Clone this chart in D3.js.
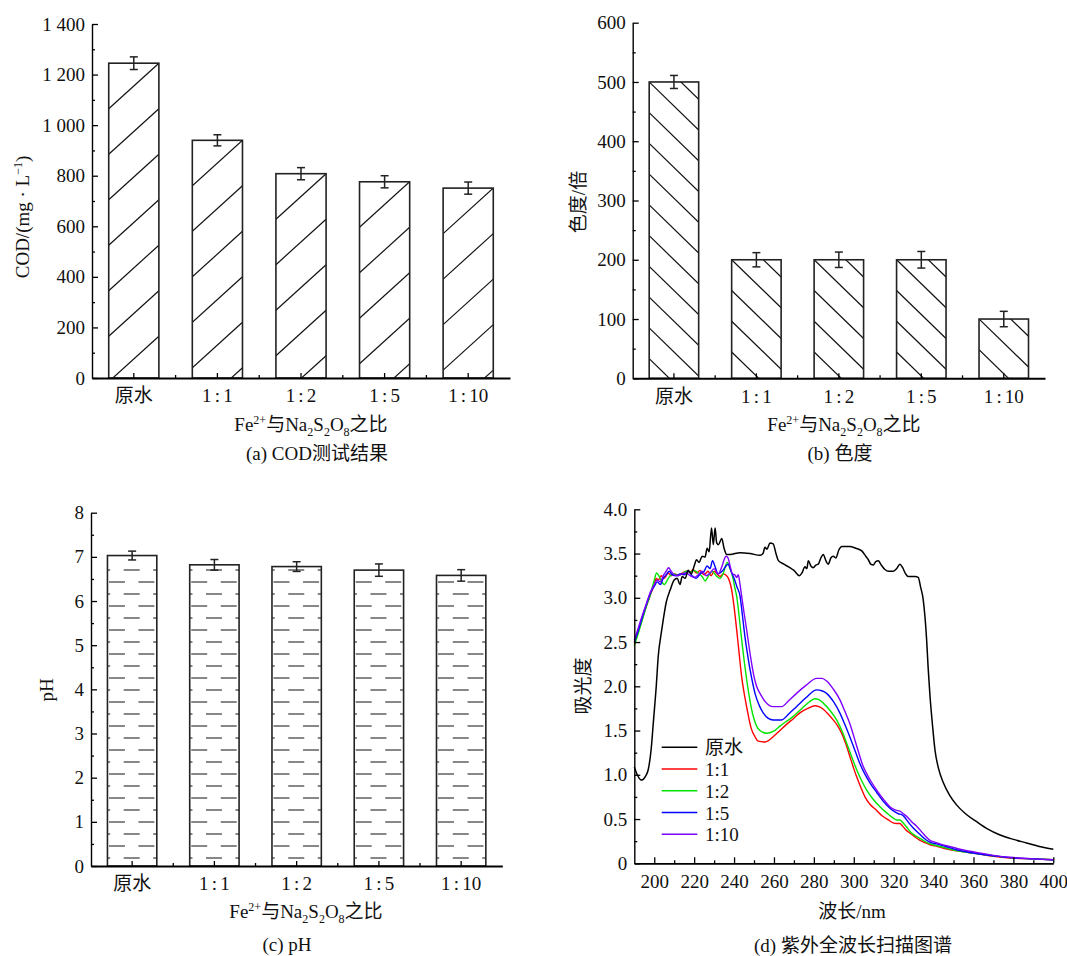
<!DOCTYPE html>
<html>
<head>
<meta charset="utf-8">
<script src="https://cdn.jsdelivr.net/npm/d3@7"></script>
<style>
  body { margin: 0; background: #fff; }
  text { font-family: "Liberation Serif", "Times New Roman", "Noto Sans CJK SC", serif; fill: #111; }
</style>
</head>
<body>
<svg id="fig" width="1067" height="956"></svg>
<script>
// bar chart data (a), (b), (c)
const categories = ["原水", "1\u2006:\u20061", "1\u2006:\u20062", "1\u2006:\u20065", "1\u2006:\u200610"];
const codValues = [1245, 940, 808, 776, 751];
const codErrors = [25, 22, 24, 24, 24];
const colorValues = [500, 200, 200, 200, 100];
const colorErrors = [11, 12, 13, 14, 13];
const phValues = [7.03, 6.82, 6.78, 6.70, 6.58];
const phErrors = [0.10, 0.12, 0.11, 0.14, 0.13];

const codTicks = d3.range(0, 1401, 200);
const colorTicks = d3.range(0, 601, 100);
const phTicks = d3.range(0, 9, 1);

// UV scan (d): [wavelength nm, absorbance]
const seriesNames = ["原水", "1:1", "1:2", "1:5", "1:10"];
const seriesColors = ["#000000", "#ff0000", "#00e400", "#0000ff", "#8000ff"];
const rawWater = [[190,1.09],[191.5,1.0],[193.5,0.94],[195.5,0.98],[197,1.06],[198.5,1.3],[199.5,1.58],[201,2.0],[202,2.34],[203.5,2.6],[204.5,2.75],[206,2.95],[208,3.09],[210,3.2],[211.5,3.22],[212.9,3.15],[214,3.24],[215.5,3.22],[217,3.31],[218.5,3.27],[220,3.36],[221.2,3.43],[222.5,3.40],[224,3.47],[225.5,3.46],[226.5,3.56],[227.5,3.52],[228.7,3.79],[229.6,3.6],[230.5,3.79],[231.3,3.62],[232.2,3.6],[233.8,3.67],[235,3.56],[236.3,3.49],[238,3.49],[243,3.51],[248,3.5],[253,3.48],[254.5,3.5],[255.5,3.57],[256.5,3.55],[258,3.62],[259.6,3.61],[261,3.5],[262.2,3.42],[265,3.38],[268,3.34],[270,3.31],[272.7,3.25],[274,3.28],[275.5,3.35],[276.5,3.33],[277.2,3.42],[278.5,3.36],[279.7,3.34],[281,3.37],[282.2,3.38],[283.5,3.45],[284.7,3.49],[286,3.42],[287.2,3.38],[288.5,3.45],[289.7,3.47],[291,3.45],[292.5,3.54],[294,3.58],[298,3.58],[301,3.56],[304,3.53],[306,3.47],[307.3,3.43],[308.5,3.38],[309.8,3.37],[311,3.41],[312.3,3.42],[313.5,3.38],[315.6,3.32],[317.5,3.3],[319.8,3.3],[321.5,3.33],[323.1,3.38],[324.5,3.34],[326,3.27],[327.3,3.24],[330.7,3.24],[332.3,3.23],[333.5,3.12],[334.8,2.98],[335.7,2.78],[336.5,2.53],[337.3,2.2],[338.2,1.89],[339.5,1.55],[340.7,1.28],[342.5,1.07],[344.9,0.91],[348,0.77],[351.5,0.66],[356,0.56],[361.6,0.47],[367,0.39],[373.3,0.32],[380,0.27],[386.6,0.23],[393,0.19],[400,0.16]];
const ratio1 = [[190,2.49],[192,2.62],[194,2.76],[196,2.9],[198,3.03],[200,3.15],[201,3.22],[202,3.2],[203.5,3.25],[205,3.22],[207,3.28],[208.5,3.25],[210,3.27],[212,3.26],[214,3.28],[216,3.3],[218,3.29],[219.5,3.32],[221,3.28],[223,3.31],[225,3.26],[227,3.3],[228.5,3.25],[230,3.3],[231.5,3.27],[233,3.24],[234.5,3.27],[236.3,3.25],[237.5,3.2],[238.8,3.09],[240,2.9],[241.3,2.64],[242.5,2.38],[243.8,2.11],[245,1.93],[246.3,1.77],[247.5,1.63],[248.8,1.51],[250.5,1.43],[252.1,1.38],[255.5,1.37],[257.5,1.39],[259.6,1.43],[263,1.5],[266.3,1.57],[270,1.64],[273,1.70],[277,1.75],[280.5,1.78],[282.5,1.77],[284.7,1.74],[287,1.69],[289.7,1.62],[292,1.55],[293.9,1.47],[296,1.35],[298,1.21],[300,1.07],[301.4,0.98],[303.5,0.86],[305.6,0.75],[308,0.67],[311.4,0.60],[314,0.54],[317.3,0.49],[319.5,0.46],[321.5,0.45],[323,0.45],[324.5,0.42],[326,0.38],[328.2,0.34],[330.5,0.30],[333.2,0.26],[336,0.23],[338.2,0.21],[342,0.19],[345,0.17],[352,0.14],[361.6,0.11],[370,0.08],[378.3,0.06],[390,0.05],[400,0.04]];
const ratio2 = [[190,2.46],[192,2.6],[194,2.75],[196,2.9],[198,3.03],[200,3.2],[201.2,3.28],[202.5,3.24],[204,3.17],[205.2,3.15],[206.5,3.2],[208,3.25],[210,3.27],[212,3.25],[214,3.27],[216,3.3],[218,3.29],[220,3.31],[222,3.28],[224,3.24],[225.5,3.19],[227,3.24],[229,3.3],[231,3.25],[233,3.22],[234.5,3.27],[236.5,3.40],[238,3.33],[239.5,3.22],[240.5,3.1],[241.3,3.02],[242.5,2.8],[243.8,2.53],[245,2.3],[246.3,2.08],[247.5,1.9],[248.8,1.74],[250,1.63],[251.3,1.55],[253,1.5],[256.3,1.47],[259.6,1.49],[263,1.55],[266,1.6],[269.7,1.66],[274,1.75],[277.5,1.82],[280.5,1.86],[282.5,1.85],[284.7,1.81],[288,1.73],[291.4,1.62],[294,1.5],[296.4,1.36],[299,1.2],[301.4,1.06],[304,0.93],[306.4,0.83],[309.5,0.73],[313.1,0.64],[316.5,0.57],[319.8,0.51],[321.5,0.49],[323.1,0.49],[325,0.45],[326.5,0.41],[328.2,0.36],[331,0.31],[334.8,0.26],[337,0.23],[339.8,0.21],[345,0.18],[352,0.14],[361.6,0.11],[370,0.085],[380,0.06],[390,0.05],[400,0.04]];
const ratio5 = [[190,2.5],[192,2.63],[194,2.78],[196,2.92],[198,3.05],[200,3.13],[201.5,3.18],[203,3.15],[204.5,3.22],[206,3.26],[207.5,3.3],[209,3.26],[211,3.25],[213,3.27],[215,3.26],[217,3.3],[219,3.25],[221,3.22],[223,3.27],[225,3.3],[226.5,3.36],[228,3.33],[229.2,3.42],[230.5,3.35],[232,3.27],[234,3.3],[236,3.36],[237,3.38],[238.5,3.3],[240,3.22],[241.5,3.12],[243,3.02],[244.2,2.8],[245.4,2.57],[246.7,2.37],[248,2.19],[249.3,2.04],[250.5,1.92],[252.5,1.79],[254.6,1.70],[257,1.64],[259.6,1.62],[263.8,1.62],[267.5,1.69],[271.3,1.77],[276,1.87],[281.4,1.96],[284,1.95],[286.4,1.92],[290,1.82],[293,1.70],[295.5,1.57],[298,1.43],[300.5,1.28],[303,1.13],[305.5,1.01],[308.1,0.91],[311.5,0.80],[314.8,0.70],[317.7,0.63],[320.6,0.58],[322.3,0.56],[324,0.55],[325.5,0.52],[327.5,0.46],[329.8,0.40],[333,0.33],[336.5,0.26],[339,0.23],[341.5,0.22],[346,0.19],[352,0.15],[361.6,0.11],[370,0.085],[380,0.06],[390,0.05],[400,0.04]];
const ratio10 = [[190,2.52],[192,2.66],[194,2.8],[196,2.93],[198,3.06],[200,3.15],[201.5,3.2],[203,3.18],[204.5,3.25],[206,3.3],[207.2,3.34],[208.5,3.3],[210,3.26],[212,3.25],[214,3.27],[216,3.28],[218,3.25],[220,3.23],[222,3.26],[224,3.3],[226,3.25],[228,3.28],[230,3.33],[232,3.27],[234,3.36],[235,3.43],[236,3.47],[237,3.45],[238,3.36],[239.2,3.27],[240.4,3.26],[241.3,3.23],[242.1,3.26],[243,3.15],[243.8,3.02],[245,2.83],[246.3,2.64],[247.5,2.45],[248.8,2.26],[250,2.11],[251.3,2.0],[253.5,1.9],[255.5,1.83],[259.6,1.77],[263.8,1.77],[267.5,1.84],[271.3,1.92],[276,2.01],[281.4,2.09],[284,2.09],[286.4,2.06],[290,1.96],[293,1.85],[295.5,1.72],[298,1.58],[301,1.36],[304.8,1.09],[308,0.95],[311.4,0.83],[315,0.72],[318.1,0.64],[321,0.6],[323.1,0.59],[324.8,0.56],[326.5,0.53],[329,0.47],[331.5,0.42],[335,0.33],[338.2,0.26],[340.5,0.24],[343.2,0.22],[348,0.19],[355,0.15],[362,0.12],[370,0.09],[380,0.065],[390,0.05],[400,0.04]];
const spectra = [rawWater, ratio1, ratio2, ratio5, ratio10];

const svg = d3.select("#fig");
const FS = 19;

// text with sub/superscripts
function richText(sel, parts) {
  let shift = 0;
  parts.forEach(([t, s]) => {
    const target = s === "sup" ? -7 : s === "sub" ? 5 : 0;
    sel.append("tspan").attr("dy", target - shift).attr("font-size", s ? 12 : null).text(t);
    shift = target;
  });
}
const ratioTitle = [["Fe"], ["2+", "sup"], ["与Na"], ["2", "sub"], ["S"], ["2", "sub"], ["O"], ["8", "sub"], ["之比"]];

function styleAxis(a, w) {
  a.attr("font-size", FS);
  a.select(".domain").attr("stroke-width", w);
  a.selectAll(".tick line").attr("stroke-width", 1.3);
}

// hatch styles
function hatchSlash(h, x0, x1, top, bot) {
  const sp = 45.5, s = 0.907, w = x1 - x0;
  for (let yr = top; yr < bot; yr += sp)
    h.append("line").attr("x1", x1).attr("y1", yr).attr("x2", x0).attr("y2", yr + w * s);
}
function hatchBack(h, x0, x1, top, bot) {
  const sp = 30.75, s = 0.97, w = x1 - x0;
  for (let yl = top - 2 * sp; yl < bot; yl += sp)
    h.append("line").attr("x1", x0).attr("y1", yl).attr("x2", x1).attr("y2", yl + w * s);
}
function hatchDash(h, x0, x1, top, bot) {
  const y0 = 570, row = 12, per = 29.5, len = 16;
  for (let k = 0; y0 + k * row < bot; k++) {
    const yy = y0 + k * row;
    if (yy < top + 3) continue;
    const start = k % 2 === 0 ? 16.25 - per : 1.5;
    for (let sx = start; sx < x1 - x0; sx += per)
      h.append("line").attr("x1", x0 + sx).attr("y1", yy).attr("x2", x0 + sx + len).attr("y2", yy);
  }
}

function barPanel(p) {
  const g = svg.append("g");
  const x = d3.scaleBand().domain(categories).range([p.left, p.right]).paddingInner(0.4).paddingOuter(0.2);
  const y = d3.scaleLinear().domain([0, p.max]).range([p.bottom, p.top]);
  const bw = x.bandwidth();

  p.values.forEach((v, i) => {
    const x0 = x(categories[i]), x1 = x0 + bw, top = y(v), bot = y(0);
    const id = p.id + i;
    g.append("clipPath").attr("id", id)
      .append("rect").attr("x", x0).attr("y", top).attr("width", bw).attr("height", bot - top);
    const h = g.append("g").attr("clip-path", `url(#${id})`).attr("stroke", "#111").attr("stroke-width", 1.2);
    p.hatch(h, x0, x1, top, bot);
    g.append("rect").attr("x", x0).attr("y", top).attr("width", bw).attr("height", bot - top)
      .attr("fill", "none").attr("stroke", "#222").attr("stroke-width", 1.6);
    // error bar
    const cx = x0 + bw / 2, e = p.errors[i];
    const eb = g.append("g").attr("stroke", "#222").attr("stroke-width", 1.5);
    eb.append("line").attr("x1", cx).attr("x2", cx).attr("y1", y(v + e)).attr("y2", y(v - e));
    eb.append("line").attr("x1", cx - 4).attr("x2", cx + 4).attr("y1", y(v + e)).attr("y2", y(v + e));
    eb.append("line").attr("x1", cx - 4).attr("x2", cx + 4).attr("y1", y(v - e)).attr("y2", y(v - e));
  });

  const ya = g.append("g").attr("transform", `translate(${p.left},0)`)
    .call(d3.axisLeft(y).tickValues(p.ticks).tickFormat(p.fmt).tickSize(-6).tickSizeOuter(0).tickPadding(7));
  styleAxis(ya, 1.4);
  const minor = p.ticks.slice(0, -1).map((t, i) => (t + p.ticks[i + 1]) / 2);
  const ym = g.append("g").attr("transform", `translate(${p.left},0)`)
    .call(d3.axisLeft(y).tickValues(minor).tickFormat("").tickSize(-3).tickSizeOuter(0));
  ym.select(".domain").remove();
  ym.selectAll(".tick line").attr("stroke-width", 1.3);

  const xa = g.append("g").attr("transform", `translate(0,${p.bottom})`)
    .call(d3.axisBottom(x).tickSize(-5).tickSizeOuter(0).tickPadding(11));
  styleAxis(xa, 2);
  categories.slice(0, -1).forEach(c => {
    const mx = x(c) + bw / 2 + x.step() / 2;
    g.append("line").attr("x1", mx).attr("x2", mx).attr("y1", p.bottom).attr("y2", p.bottom - 3)
      .attr("stroke", "#000").attr("stroke-width", 1.3);
  });

  const xt = g.append("text").attr("x", p.xTitle[0]).attr("y", p.xTitle[1])
    .attr("text-anchor", "middle").attr("font-size", FS);
  richText(xt, ratioTitle);

  const yt = g.append("text").attr("transform", `translate(${p.yTitle[0]},${p.yTitle[1]}) rotate(-90)`)
    .attr("text-anchor", "middle").attr("font-size", FS);
  richText(yt, p.yLabel);

  g.append("text").attr("x", p.caption[0]).attr("y", p.caption[1])
    .attr("text-anchor", "middle").attr("font-size", FS).text(p.captionText);
}

barPanel({
  id: "ca", left: 92, right: 510, top: 24, bottom: 378, max: 1400,
  values: codValues, errors: codErrors, ticks: codTicks,
  fmt: d => d3.format(",")(d).replace(",", " "),
  hatch: hatchSlash,
  xTitle: [311, 431], yTitle: [29, 217], caption: [317, 460],
  yLabel: [["COD/(mg · L"], ["−1", "sup"], [")"]],
  captionText: "(a) COD测试结果"
});

barPanel({
  id: "cb", left: 632.7, right: 1045, top: 22.7, bottom: 378.3, max: 600,
  values: colorValues, errors: colorErrors, ticks: colorTicks,
  fmt: d3.format("d"),
  hatch: hatchBack,
  xTitle: [844, 431], yTitle: [585, 202], caption: [840, 460],
  yLabel: [["色度/倍"]],
  captionText: "(b) 色度"
});

barPanel({
  id: "cc", left: 91, right: 502.3, top: 512.7, bottom: 866, max: 8,
  values: phValues, errors: phErrors, ticks: phTicks,
  fmt: d3.format("d"),
  hatch: hatchDash,
  xTitle: [306, 918], yTitle: [53, 690], caption: [287, 951],
  yLabel: [["pH"]],
  captionText: "(c) pH"
});

// (d) UV full-wavelength scan
(function () {
  const left = 634.3, right = 1053.3, top = 509.3, bottom = 863.3;
  const g = svg.append("g");
  const x = d3.scaleLinear().domain([190, 400]).range([left, right]);
  const y = d3.scaleLinear().domain([0, 4]).range([bottom, top]);

  const line = d3.line().x(d => x(d[0])).y(d => y(d[1])).curve(d3.curveMonotoneX);
  // draw treated samples first, raw water on top
  [1, 2, 3, 4, 0].forEach(i => {
    g.append("path").attr("d", line(spectra[i])).attr("fill", "none")
      .attr("stroke", seriesColors[i]).attr("stroke-width", i === 0 ? 1.5 : 1.4);
  });

  const ya = g.append("g").attr("transform", `translate(${left},0)`)
    .call(d3.axisLeft(y).tickValues(d3.range(0, 4.01, 0.5))
      .tickFormat(d => d === 0 ? "0" : d3.format(".1f")(d)).tickSize(-6).tickSizeOuter(0).tickPadding(7));
  styleAxis(ya, 1.4);
  const ym = g.append("g").attr("transform", `translate(${left},0)`)
    .call(d3.axisLeft(y).tickValues(d3.range(0.25, 4, 0.5)).tickFormat("").tickSize(-3).tickSizeOuter(0));
  ym.select(".domain").remove();
  ym.selectAll(".tick line").attr("stroke-width", 1.3);

  const xa = g.append("g").attr("transform", `translate(0,${bottom})`)
    .call(d3.axisBottom(x).tickValues(d3.range(200, 401, 20)).tickFormat(d3.format("d"))
      .tickSize(-6).tickSizeOuter(0).tickPadding(11));
  styleAxis(xa, 1.8);
  const xm = g.append("g").attr("transform", `translate(0,${bottom})`)
    .call(d3.axisBottom(x).tickValues(d3.range(210, 400, 20)).tickFormat("").tickSize(-3).tickSizeOuter(0));
  xm.select(".domain").remove();
  xm.selectAll(".tick line").attr("stroke-width", 1.3);

  // legend
  seriesNames.forEach((n, i) => {
    const ly = 747.3 + i * 21.75;
    g.append("line").attr("x1", 661.7).attr("x2", 697.3).attr("y1", ly).attr("y2", ly)
      .attr("stroke", seriesColors[i]).attr("stroke-width", 1.5);
    g.append("text").attr("x", 705).attr("y", ly + 7).attr("font-size", FS).text(n);
  });

  g.append("text").attr("transform", "translate(590,686) rotate(-90)")
    .attr("text-anchor", "middle").attr("font-size", FS).text("吸光度");
  g.append("text").attr("x", 852).attr("y", 918).attr("text-anchor", "middle").attr("font-size", FS).text("波长/nm");
  g.append("text").attr("x", 853).attr("y", 952).attr("text-anchor", "middle").attr("font-size", FS).text("(d) 紫外全波长扫描图谱");
})();
</script>
</body>
</html>
